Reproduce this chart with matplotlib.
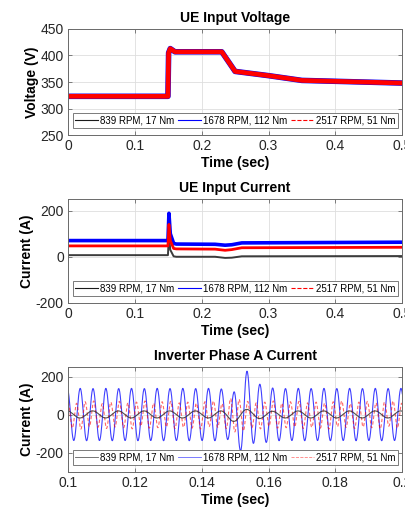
import numpy as np
import matplotlib
matplotlib.use('Agg')
import matplotlib.pyplot as plt
from matplotlib.lines import Line2D
from matplotlib.ticker import FuncFormatter

plt.rcParams['font.family'] = ['Liberation Sans', 'DejaVu Sans']

# ---- series labels -------------------------------------------------------
labels = ['839 RPM, 17 Nm', '1678 RPM, 112 Nm', '2517 RPM, 51 Nm']

# ---- UE input voltage (breakpoints of the DC bus trace) ------------------
volt_t = [0.0, 0.1495, 0.1505, 0.153, 0.16, 0.23, 0.25, 0.30, 0.35, 0.5]
volt_black = [323, 323, 405, 413, 407, 407, 370, 362, 353, 348]
volt_blue = [323, 323, 405, 413, 407, 407, 370, 362, 353, 348]
volt_red = [323, 323, 405, 413, 407, 407, 370, 362, 353, 348]

# ---- UE input current ----------------------------------------------------
cur_t = [0.0, 0.1495, 0.151, 0.153, 0.158, 0.162, 0.22, 0.235, 0.245, 0.26, 0.5]
cur_black = [7, 7, 95, 30, 2, 0, 0, -5, -4, 2, 3]
cur_blue = [70, 70, 188, 100, 58, 55, 54, 50, 52, 60, 63]
cur_red = [47, 47, 140, 70, 36, 34, 33, 28, 31, 39, 41]

# ---- inverter phase A current: successive half-cycle extremes ------------
# (first extreme time, half period, extreme values)
ph_black_t0, ph_black_half = 0.0997, 0.00384
ph_black = [20, -17, 20, -17, 20, -17, 20, -17, 20, -17, 20, -17, 20,
            -35, 28, -20, 18, -17, 20, -17, 20, -17, 20, -17, 20, -17, 20, -17]

ph_blue_t0, ph_blue_half = 0.0998, 0.00192
ph_blue = [135, -135, 138, -136, 137, -135, 138, -136, 137, -135,
           138, -136, 137, -135, 138, -136, 137, -135, 138, -136,
           137, -135, 138, -136, 135, -130, 120, -190, 228, -150,
           160, -145, 140, -136, 137, -135, 138, -136, 137, -135,
           138, -136, 137, -135, 138, -136, 137, -135, 138, -136,
           137, -135, 138, -136]

ph_red_t0, ph_red_half = 0.1, 0.00128
ph_red = [65, -70, 60, -75, 68, -62, 72, -66, 58, -72, 66, -64, 70, -68,
          62, -74, 66, -60, 72, -70, 60, -68, 68, -64, 70, -72, 62, -66,
          66, -70, 60, -75, 68, -62, 72, -66, 58, -72, 85, -90, 80, -85,
          70, -68, 62, -74, 66, -60, 72, -70, 60, -68, 68, -64, 70, -72,
          62, -66, 66, -70, 60, -75, 68, -62, 72, -66, 58, -72, 66, -64,
          70, -68, 62, -74, 66, -60, 72, -70, 60, -68]


def half_wave(t0, half, ext, n_per=24):
    # join successive extremes with half-cosine arcs
    ts, vs = [], []
    for k in range(len(ext) - 1):
        s = np.linspace(0, 1, n_per, endpoint=False)
        ts.append(t0 + (k + s) * half)
        vs.append(ext[k] + (ext[k + 1] - ext[k]) * (1 - np.cos(np.pi * s)) / 2)
    return np.concatenate(ts), np.concatenate(vs)


C_BLACK = '#1a1a1a'
C_BLUE = '#0000ff'
C_RED = '#ff0000'
EDGE = '#6a6a6a'
TXT = '#262626'

fig = plt.figure(figsize=(4.05, 5.13), dpi=100)
ax1 = fig.add_axes([0.168, 0.7368, 0.825, 0.2067])
ax2 = fig.add_axes([0.168, 0.4094, 0.825, 0.2027])
ax3 = fig.add_axes([0.168, 0.0799, 0.825, 0.2047])

fmt = FuncFormatter(lambda v, p: f'{v:g}')


def style(ax, title, ylabel):
    ax.set_title(title, fontsize=10, fontweight='bold', color='black', pad=5)
    ax.set_xlabel('Time (sec)', fontsize=10, fontweight='bold', labelpad=2)
    ax.set_ylabel(ylabel, fontsize=10, fontweight='bold', labelpad=1)
    ax.grid(True, color='#dedede', linewidth=0.6)
    ax.set_axisbelow(True)
    for sp in ax.spines.values():
        sp.set_color(EDGE)
        sp.set_linewidth(0.7)
    ax.tick_params(direction='in', length=3, width=0.6, color=EDGE,
                   labelsize=10, labelcolor=TXT, top=True, right=True, pad=3)
    ax.xaxis.set_major_formatter(fmt)
    ax.yaxis.set_major_formatter(fmt)


def add_legend(ax, lws, alphas):
    handles = [Line2D([], [], color=C_BLACK, lw=lws[0], alpha=alphas[0]),
               Line2D([], [], color=C_BLUE, lw=lws[1], alpha=alphas[1]),
               Line2D([], [], color=C_RED, lw=lws[2], ls='--', alpha=alphas[2])]
    leg = ax.legend(handles, labels, loc='lower center', ncol=3, fontsize=7,
                    handlelength=2.4, handletextpad=0.15, columnspacing=0.4,
                    borderpad=0.25, borderaxespad=0.7, fancybox=False,
                    framealpha=1)
    leg.get_frame().set_edgecolor('#7a7a7a')
    leg.get_frame().set_linewidth(0.7)


# UE input voltage
ax1.plot(volt_t, volt_black, color=C_BLACK, lw=1.0)
ax1.plot(volt_t, volt_blue, color=C_BLUE, lw=4.0)
ax1.plot(volt_t, volt_red, color=C_RED, lw=3.4)
ax1.set_xlim(0, 0.5)
ax1.set_ylim(250, 450)
ax1.set_xticks(np.arange(0, 0.51, 0.1))
ax1.set_yticks([250, 300, 350, 400, 450])
style(ax1, 'UE Input Voltage', 'Voltage (V)')
add_legend(ax1, [0.8, 0.8, 0.8], [1, 1, 1])

# UE input current
ax2.plot(cur_t, cur_black, color=C_BLACK, lw=1.4, alpha=0.85)
ax2.plot(cur_t, cur_blue, color=C_BLUE, lw=2.6)
ax2.plot(cur_t, cur_red, color=C_RED, lw=2.0)
ax2.set_xlim(0, 0.5)
ax2.set_ylim(-200, 250)
ax2.set_xticks(np.arange(0, 0.51, 0.1))
ax2.set_yticks([-200, 0, 200])
style(ax2, 'UE Input Current', 'Current (A)')
add_legend(ax2, [0.8, 0.8, 0.8], [1, 1, 1])

# Inverter phase A current
tb, vb = half_wave(ph_black_t0, ph_black_half, ph_black)
tu, vu = half_wave(ph_blue_t0, ph_blue_half, ph_blue)
tr, vr = half_wave(ph_red_t0, ph_red_half, ph_red)
ax3.plot(tu, vu, color=C_BLUE, lw=0.8, alpha=0.75)
ax3.plot(tr, vr, color=C_RED, lw=0.8, ls=(0, (3, 2)), alpha=0.6)
ax3.plot(tb, vb, color='#333333', lw=0.8, alpha=0.85)
ax3.set_xlim(0.1, 0.2)
ax3.set_ylim(-300, 250)
ax3.set_xticks(np.arange(0.1, 0.201, 0.02))
ax3.set_yticks([-200, 0, 200])
style(ax3, 'Inverter Phase A Current', 'Current (A)')
add_legend(ax3, [0.6, 0.6, 0.6], [0.7, 0.6, 0.5])

fig.savefig('out.png', dpi=100)
